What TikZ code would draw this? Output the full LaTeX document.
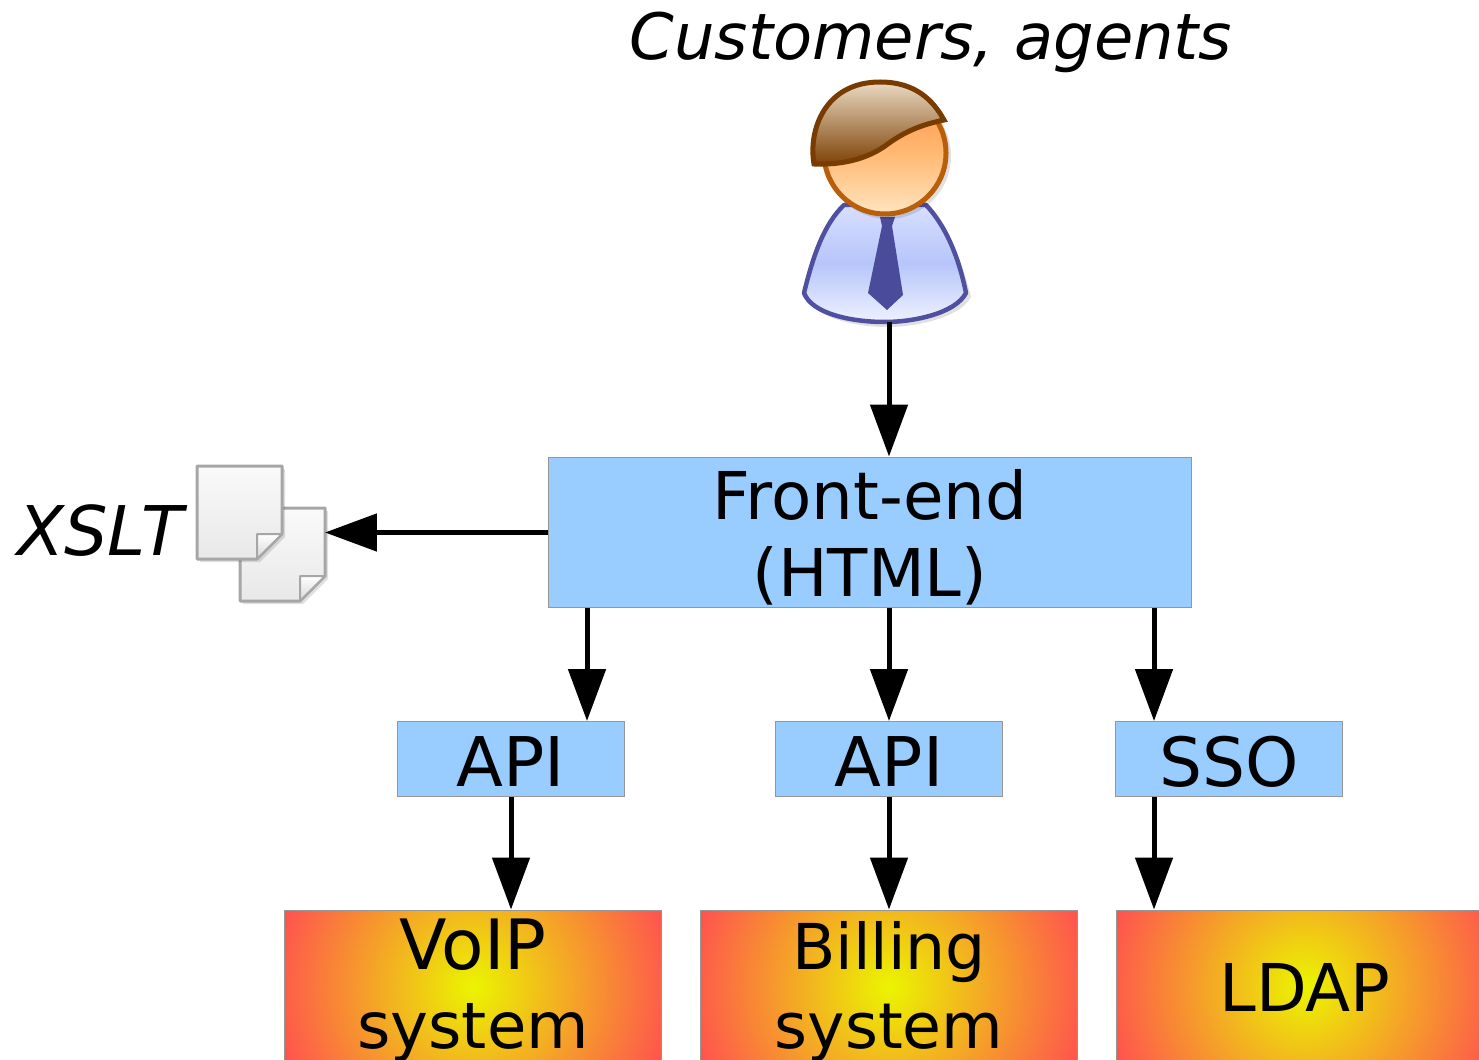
\documentclass[tikz,border=0pt]{standalone}
\usepackage{fontspec}
\setmainfont{DejaVu Sans}
\usetikzlibrary{arrows.meta}
\definecolor{boxblue}{RGB}{153,204,255}
\definecolor{boxedge}{RGB}{150,150,150}
\definecolor{hotyellow}{RGB}{235,245,0}
\definecolor{hotred}{RGB}{255,80,80}
\definecolor{skinedge}{RGB}{185,95,10}
\definecolor{hairedge}{RGB}{120,60,0}
\definecolor{suitedge}{RGB}{80,80,160}
\definecolor{tieblue}{RGB}{75,75,155}
\newcommand{\textdrop}[1]{\rule{0pt}{#1}}
\tikzset{
    bigtext/.style = {font=\fontsize{37.5}{44}\selectfont, align=center, inner sep=0pt},
    blue box/.style = {bigtext, fill=boxblue, draw=boxedge, line width=0.02cm},
    api box/.style = {blue box, minimum width=4.54cm, minimum height=1.5cm, font=\fontsize{39}{44}\selectfont},
    system box/.style = {bigtext, font=\fontsize{36.5}{45}\selectfont, draw=boxedge, line width=0.02cm, minimum width=7.56cm, minimum height=3.08cm,
        path picture={\fill[inner color=hotyellow, outer color=hotred] (path picture bounding box.center) circle (206);}},
    arrow line/.style = {line width=0.1cm, -{Triangle[length=1.04cm, width=0.74cm]}},
    soft shadow/.style = {fill=black, opacity=0.12}
}
\begin{document}
\begin{tikzpicture}[x=0.02cm, y=-0.02cm]
        \clip (0, 0) rectangle (1479, 1060);
        \useasboundingbox (0, 0) rectangle (1479, 1060);

        \coordinate (person) at (889, 322);
        \coordinate (docs) at (325, 532.5);
        \coordinate (xA) at (587, 0);
        \coordinate (xB) at (889, 0);
        \coordinate (xC) at (1154, 0);

        % person
        \fill[soft shadow] (807, 297) .. controls (820, 260) and (830, 225) .. (847, 209) -- (931, 209) .. controls (950, 230) and (962, 262) .. (971, 297) .. controls (960, 318) and (915, 327) .. (888, 327) .. controls (855, 327) and (815, 318) .. (807, 297) -- cycle;
        \draw[suitedge, line width=0.09cm, line join=round, top color={rgb,255:red,215;green,222;blue,255}, bottom color={rgb,255:red,238;green,242;blue,255}, middle color={rgb,255:red,183;green,197;blue,250}]
            (804, 293) .. controls (813, 256) and (824, 224) .. (844, 205) -- (926, 205) .. controls (946, 226) and (959, 258) .. (966, 293) .. controls (955, 314) and (912, 322) .. (885, 322) .. controls (852, 322) and (812, 314) .. (804, 293) -- cycle;
        \fill[tieblue] (880, 217) -- (895, 217) -- (892, 226) -- (903, 295) -- (887, 310) -- (868, 293) -- (882, 226) -- cycle;
        \fill[soft shadow] (888, 156) circle (63);
        \draw[skinedge, line width=0.1cm, top color={rgb,255:red,255;green,150;blue,70}, bottom color={rgb,255:red,255;green,228;blue,190}, middle color={rgb,255:red,255;green,185;blue,115}] (885, 153) circle (61);
        \draw[hairedge, line width=0.1cm, top color={rgb,255:red,235;green,218;blue,195}, bottom color={rgb,255:red,125;green,65;blue,5}]
            (814, 164) .. controls (808, 130) and (825, 82) .. (880, 82) .. controls (915, 82) and (933, 100) .. (944, 120) .. controls (915, 126) and (900, 135) .. (885, 146) .. controls (865, 160) and (840, 165) .. (814, 164) -- cycle;

        % documents
        \foreach \docx/\docy in {240/508, 197/466} {
            \fill[soft shadow] (\docx+3, \docy+3) -- ++(85, 0) -- ++(0, 68) -- ++(-25, 25) -- ++(-60, 0) -- cycle;
            \draw[black!35, line width=0.06cm, line join=round, top color=black!2, bottom color=black!9] (\docx, \docy) -- ++(85, 0) -- ++(0, 68) -- ++(-25, 25) -- ++(-60, 0) -- cycle;
            \draw[black!35, line width=0.04cm, line join=round, top color=white, bottom color=black!16] (\docx+60, \docy+93) -- ++(0, -25) -- ++(25, 0) -- cycle;
        }

        \node[bigtext, font=\fontsize{36.4}{44}\selectfont\itshape] (customers) at (931, 42) {Customers, agents};
        \node[bigtext, font=\fontsize{39}{44}\selectfont\itshape] (xslt) at (100, 531) {XSLT};

        \node[blue box, minimum width=12.88cm, minimum height=3.02cm] (frontend) at (870, 532.5) {\textdrop{34.2pt}Front-end\\(HTML)};
        \node[api box] (apiA) at (511, 759) {\textdrop{31.5pt}API};
        \node[api box] (apiB) at (889, 759) {\textdrop{31.5pt}API};
        \node[api box, font=\fontsize{38.6}{44}\selectfont] (sso) at (1229, 759) {\textdrop{31.5pt}SSO};
        \node[system box] (voip) at (473, 987) {\textdrop{33pt}{\fontsize{39.5}{45}\selectfont VoIP}\\system};
        \node[system box, font=\fontsize{36}{45}\selectfont] (billing) at (889, 987) {\textdrop{33pt}Billing\\system};
        \node[system box, font=\fontsize{37.5}{44}\selectfont] (ldap) at (1305, 987) {LDAP};

        \draw[arrow line] (person) -- (frontend.north -| person);
        \draw[arrow line] (frontend.west) -- (docs);
        \draw[arrow line] (frontend.south -| xA) -- (apiA.north -| xA);
        \draw[arrow line] (frontend.south -| xB) -- (apiB.north -| xB);
        \draw[arrow line] (frontend.south -| xC) -- (sso.north -| xC);
        \draw[arrow line] (apiA.south) -- (voip.north -| apiA.south);
        \draw[arrow line] (apiB.south) -- (billing.north -| apiB.south);
        \draw[arrow line] (sso.south -| xC) -- (ldap.north -| xC);
    \end{tikzpicture}
\end{document}
